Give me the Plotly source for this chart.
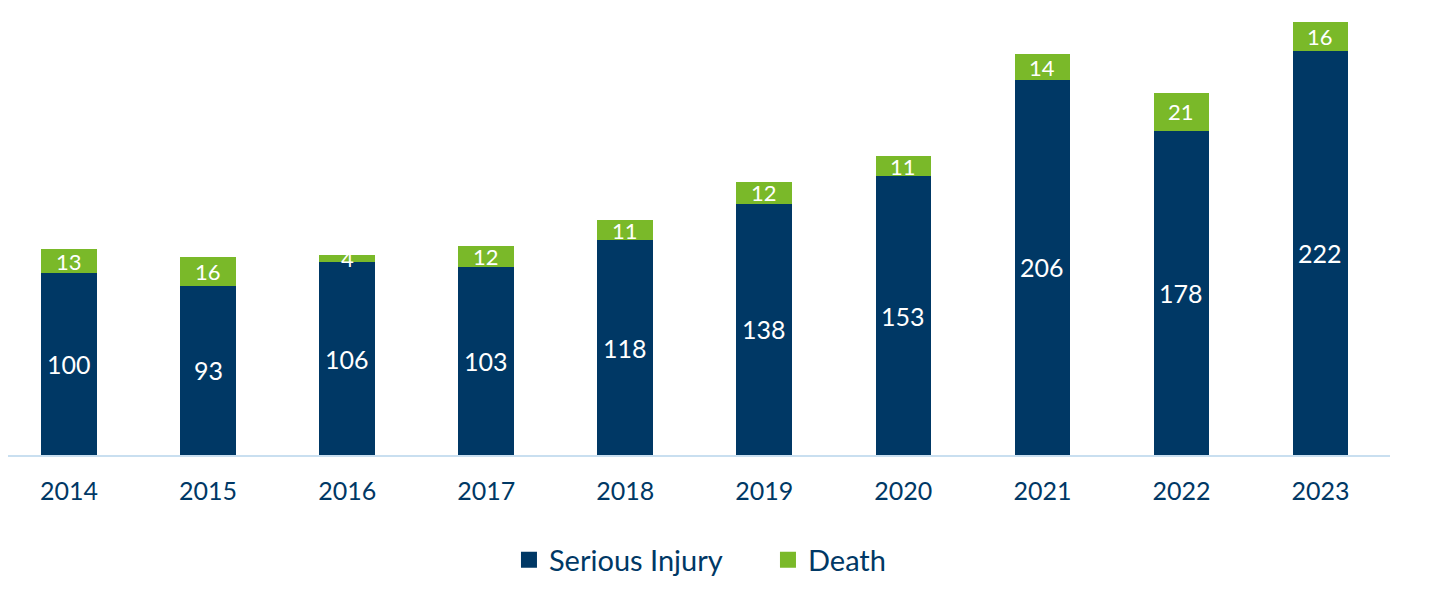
import plotly.graph_objects as go

years = ["2014", "2015", "2016", "2017", "2018", "2019", "2020", "2021", "2022", "2023"]
serious_injury = [100, 93, 106, 103, 118, 138, 153, 206, 178, 222]
death = [13, 16, 4, 12, 11, 12, 11, 14, 21, 16]

NAVY = "#003865"
GREEN = "#7ab929"
FONT = "Lato"

fig = go.Figure()
fig.add_trace(go.Bar(x=years, y=serious_injury, name="Serious Injury", showlegend=False,
                     marker=dict(color=NAVY, line=dict(width=0))))
fig.add_trace(go.Bar(x=years, y=death, name="Death", showlegend=False,
                     marker=dict(color=GREEN, line=dict(width=0))))
# legend entries with larger square symbols
fig.add_trace(go.Scatter(x=[None], y=[None], mode="markers", name="Serious Injury",
                         marker=dict(symbol="square", size=18, color=NAVY)))
fig.add_trace(go.Scatter(x=[None], y=[None], mode="markers", name="Death",
                         marker=dict(symbol="square", size=18, color=GREEN)))

annotations = []
for i, (s, d) in enumerate(zip(serious_injury, death)):
    annotations.append(dict(x=i, y=s / 2, text=str(s), showarrow=False,
                            font=dict(color="white", size=25, family=FONT),
                            xref="x", yref="y"))
    annotations.append(dict(x=i, y=s + d / 2, text=str(d), showarrow=False,
                            font=dict(color="white", size=22, family=FONT),
                            xref="x", yref="y"))

fig.update_layout(
    barmode="stack",
    bargap=0.6,
    width=1422, height=583,
    margin=dict(l=0, r=40, t=10, b=136),
    plot_bgcolor="white", paper_bgcolor="white",
    font=dict(family=FONT, color=NAVY),
    annotations=annotations,
    legend=dict(orientation="h", x=0.3625, xanchor="left", y=-0.24, yanchor="middle",
                font=dict(size=29, color=NAVY, family=FONT), itemwidth=30,
                entrywidth=214, traceorder="normal"),
    xaxis=dict(type="category", range=[-0.439, len(years) - 0.5], showline=True,
               linecolor="#c9dff0", linewidth=1.5, ticks="", ticklabelstandoff=13,
               tickfont=dict(size=25, color=NAVY, family=FONT), showgrid=False,
               fixedrange=True),
    yaxis=dict(range=[0, 240], visible=False, showgrid=False, fixedrange=True),
)

fig.write_html("out.html")
